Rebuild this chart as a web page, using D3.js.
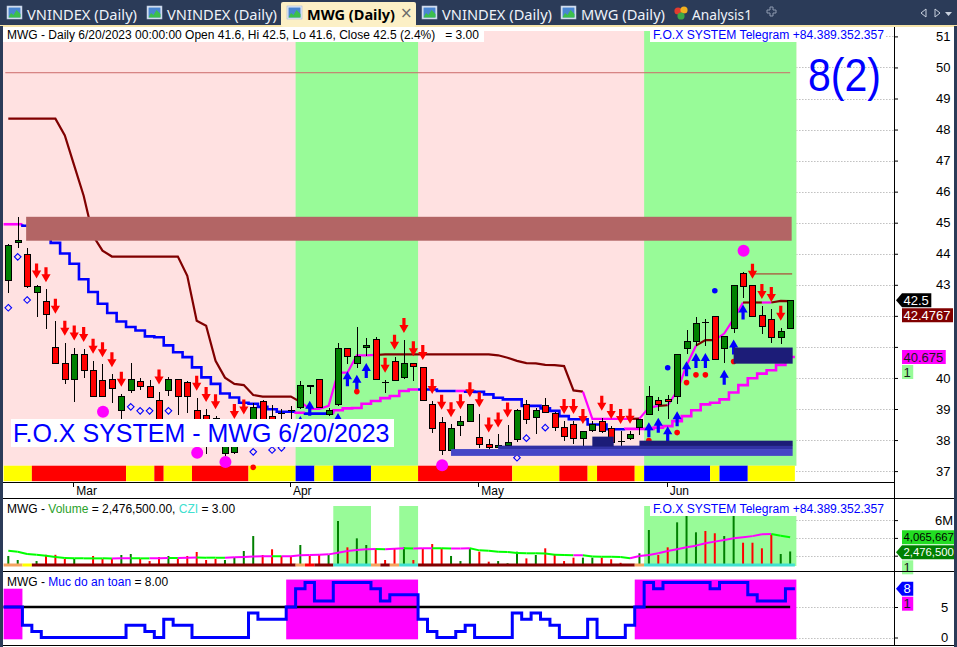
<!DOCTYPE html>
<html>
<head>
<meta charset="utf-8">
<script src="https://cdn.jsdelivr.net/npm/d3@7"></script>
<style>
body{margin:0;background:#fff;overflow:hidden}
svg{display:block;font-family:"Liberation Sans",Arial,sans-serif}
</style>
</head>
<body>
<div id="chart"></div>
<script>
// MWG daily bars, 20 Feb 2023 .. 20 Jun 2023
var tabNames = ['VNINDEX (Daily)','VNINDEX (Daily)','MWG (Daily)','VNINDEX (Daily)','MWG (Daily)','Analysis1']
var months = [[7,'Mar'],[30,'Apr'],[50,'May'],[70,'Jun']]
var priceTicks = [37,38,39,40,41,42,43,44,45,46,47,48,49,50,51]
var volTicks = [2,4,6]
var safeTicks = [0,5]

var open = [43.15,44.35,43.97,42.76,42.45,40.97,40.47,39.95,40.76,40.25,
	39.93,39.96,38.96,39.58,39.87,39.71,39.26,39.58,39.96,39.86,
	38.96,38.8,38.7,37.58,37.6,38.0,38.67,39.23,38.77,38.85,
	38.96,39.06,39.76,39.96,38.83,39.15,40.96,40.47,40.98,41.23,
	39.85,40.52,40.01,40.47,40.35,39.15,38.58,37.67,38.48,38.61,
	38.07,37.86,37.75,37.83,38.02,39.13,38.72,39.1,38.86,38.39,
	38.5,38.05,38.31,38.61,38.38,37.95,38.05,38.4,38.83,39.26,
	39.31,39.4,40.96,41.16,41.8,41.97,40.96,41.6,43.35,42.97,
	42.0,41.89,41.3,41.6]
var high = [44.3,45.17,44.2,42.98,42.86,41.84,41.13,40.98,40.93,40.55,
	40.44,40.12,39.49,40.47,40.01,39.93,39.56,40.04,39.96,39.9,
	39.36,39.0,38.77,38.4,38.45,38.6,39.2,39.3,39.12,39.0,
	39.1,39.9,39.76,39.96,39.04,41.11,40.96,41.65,41.3,41.32,
	39.94,40.68,41.22,40.47,40.35,39.26,38.75,38.51,38.77,39.15,
	38.83,38.02,38.18,38.5,39.0,39.28,39.04,39.37,38.9,38.61,
	38.61,38.29,38.61,38.72,38.45,38.29,38.3,38.67,39.74,39.39,
	39.44,40.76,41.55,41.97,41.9,41.97,41.33,42.97,43.4,42.97,
	42.32,42.22,41.62,42.5]
var low = [42.72,44.2,42.9,41.97,41.59,40.47,39.82,39.24,40.01,39.39,
	39.39,39.2,38.64,39.53,39.6,39.36,38.5,39.42,38.81,38.86,
	37.55,37.55,37.9,37.5,37.55,37.9,38.5,38.5,38.5,38.6,
	38.65,39.0,39.49,39.04,38.77,39.1,40.44,40.33,40.71,39.96,
	39.53,39.9,39.98,39.9,39.26,38.24,37.52,37.67,38.13,38.61,
	37.75,37.62,37.75,37.83,37.95,38.53,38.18,38.88,38.3,37.97,
	37.86,37.75,38.25,38.24,37.91,37.75,38.0,38.16,38.8,38.94,
	38.67,39.15,40.76,41.03,41.03,40.6,40.49,41.46,42.59,41.98,
	41.41,41.14,41.09,41.6]
var close = [44.26,44.44,42.95,42.96,42.04,40.47,39.96,40.76,40.25,39.39,
	39.39,39.67,39.39,39.96,39.71,39.36,38.61,39.96,39.39,39.39,
	38.4,38.2,38.1,38.25,38.3,38.35,39.06,38.67,38.64,38.85,
	38.96,39.76,39.71,39.04,38.96,40.96,40.68,40.69,41.05,39.96,
	39.85,39.93,40.47,40.36,39.26,38.38,37.67,38.38,38.6,39.15,
	37.86,37.75,37.83,37.91,38.96,38.67,38.96,38.88,38.42,38.1,
	38.05,38.29,38.5,38.29,37.91,37.95,38.18,38.67,39.39,39.15,
	39.23,40.76,41.16,41.76,41.8,40.6,41.33,42.97,42.95,41.98,
	41.65,41.3,41.5,42.5]
// volume in millions of shares
var volumeM = [1.97,1.52,0.9,1.4,2.1,2.1,1.63,1.63,0.9,1.97,
	1.63,1.63,2.08,2.19,1.63,1.4,1.85,1.97,1.63,1.97,
	2.42,1.52,1.63,1.52,1.82,2.53,4.21,2.08,2.72,1.97,
	1.97,3.2,1.97,2.08,2.08,5.9,2.94,3.95,3.2,2.83,
	1.52,2.83,2.94,1.52,2.83,3.31,2.83,1.97,1.4,2.83,
	2.45,1.33,1.4,1.15,2.45,1.7,2.08,2.83,2.19,1.4,
	1.78,1.78,1.78,1.78,1.6,1.2,1.0,2.27,4.89,2.08,
	2.94,5.75,6.46,4.63,4.78,4.52,4.21,6.46,3.46,3.46,
	2.83,4.4,2.19,2.4765]
var volAvgM = [2.56,2.45,2.2,2.1,2.0,1.85,1.75,1.72,1.7,1.7,
	1.7,1.69,1.7,1.72,1.7,1.7,1.72,1.74,1.73,1.78,
	1.8,1.78,1.78,1.77,1.82,1.85,1.92,1.93,1.95,1.93,
	1.95,2.05,2.08,2.1,2.15,2.34,2.53,2.65,2.72,2.75,
	2.72,2.78,2.83,2.8,2.83,2.85,2.83,2.8,2.82,2.83,
	2.6,2.56,2.45,2.42,2.3,2.27,2.27,2.25,2.1,2.08,
	2.05,2.06,1.9,1.89,1.88,1.85,1.71,1.97,2.08,2.27,
	2.53,2.72,2.94,3.13,3.4,3.58,3.77,3.96,4.07,4.2,
	4.4,4.44,4.25,4.065667]
// upper trailing stop (dark red / magenta) and lower stop (blue / magenta)
var stopUp = [48.35,48.35,48.35,48.35,48.35,48.35,47.81,46.84,45.87,44.58,
	44.1,43.91,43.91,43.91,43.91,43.91,43.91,43.91,43.91,43.29,
	41.84,41.68,40.55,40.01,39.81,39.77,39.45,39.4,39.4,39.4,
	39.4,39.23,39.0,39.0,39.1,40.17,40.17,40.73,40.73,40.74,
	40.76,40.76,40.76,40.76,40.76,40.76,40.76,40.76,40.76,40.76,
	40.76,40.76,40.73,40.65,40.55,40.48,40.47,40.42,40.41,40.38,
	39.6,39.56,38.68,38.68,38.68,38.68,38.68,38.69,39.04,39.1,
	39.12,39.58,40.4,41.04,41.22,41.22,41.43,41.9,42.43,42.43,
	42.43,42.43,42.48,42.4767]
var upRuns = [[0,31,'d'],[32,39,'m'],[40,61,'d'],[62,66,'m'],[67,67,'d'],[68,69,'m'],[70,70,'d'],
	[71,73,'m'],[74,75,'d'],[76,78,'m'],[79,80,'d'],[81,81,'m'],[82,83,'d']]
var stopDn = [44.95,44.95,44.9,44.9,44.9,44.35,44.01,43.68,43.18,42.77,
	42.39,42.09,41.82,41.64,41.53,41.34,41.31,41.05,40.83,40.67,
	40.34,40.02,39.81,39.5,39.37,39.2,39.17,39.07,38.99,38.91,
	38.91,38.88,38.85,38.85,38.85,38.96,39.02,39.03,39.17,39.26,
	39.35,39.42,39.58,39.63,39.63,39.63,39.58,39.58,39.58,39.56,
	39.55,39.47,39.36,39.31,39.31,39.1,39.1,39.02,38.94,38.77,
	38.67,38.67,38.5,38.5,38.35,38.35,38.36,38.36,38.36,38.4,
	38.45,38.61,38.77,38.96,39.15,39.2,39.31,39.53,39.77,39.99,
	40.14,40.25,40.42,40.675]
var dnRuns = [[0,1,'m'],[2,30,'b'],[31,31,'m'],[32,34,'b'],[35,43,'m'],[44,47,'b'],[48,48,'m'],[49,65,'b'],[66,83,'m']]
// "Muc do an toan" (safety level)
var safety = [5,5,2,1,0,0,0,0,0,0,
	0,0,0,2,2,1,0,3,2,2,
	0,0,0,0,0,0,4,3,3,3,
	5,8,9,6,6,9,9,9,9,8,
	6,7,7,7,3,1,0,0,1,2,
	0,0,0,0,4,3,4,3,2,0,
	0,0,3,0,0,0,2,5,9,8,
	9,9,9,9,9,8,9,9,9,7,
	6,6,6,8]
var safeLevel = 5
var safeZones = [[0,1,8],[30,43,9.5],[67,83,9.5]]
var greenRuns = [[31,43],[68,83]]
var trendRuns = [[0,2,'y'],[3,12,'r'],[13,15,'y'],[16,16,'r'],[17,19,'y'],[20,25,'r'],[26,30,'y'],[31,32,'b'],
	[33,34,'y'],[35,38,'b'],[39,43,'y'],[44,53,'r'],[54,58,'y'],[59,61,'r'],[62,62,'y'],[63,66,'r'],
	[67,67,'y'],[68,74,'b'],[75,75,'y'],[76,78,'b'],[79,83,'y']]
var volRuns = [[0,1,'o'],[2,2,'y'],[3,30,'d'],[31,31,'o'],[32,32,'r'],[33,34,'d'],[35,38,'t'],[39,39,'o'],
	[40,40,'d'],[41,41,'o'],[42,43,'t'],[44,66,'d'],[67,67,'o'],[68,83,'t']]
var sellBars = [3,4,5,6,7,8,9,10,11,12,16,20,21,22,24,25,40,41,42,43,44,45,46,47,48,49,50,51,52,53,
	59,60,61,63,64,65,66,79,80,81,82]
var buyBars = [31,32,35,36,37,38,68,69,70,71,72,73,74,76,77,78]
var hollowMarks = [[0,42.26],[1,43.9],[2,42.51],[13,39.07],[14,38.94],[15,38.94],[17,38.94],[26,37.62],
	[28,37.68],[29,37.75],[54,37.43],[55,38.06],[57,38.4]]
var redDots = [[26,37.12],[37,39.56],[68,37.98],[71,38.24],[72,39.85],[73,40.1],[74,40.1],[77,40.53]]
var blueDots = [[70,40.33],[75,42.81]]
var bigDots = [[10,38.91],[20,37.59],[23,37.29],[46,37.19],[78,44.1]]
var zones = [
	{from:2,  to:83, lo:44.42, hi:45.19, kind:'res'},
	{from:47, to:83, lo:37.49, hi:37.71, kind:'s3'},
	{from:52, to:83, lo:37.71, hi:37.82, kind:'s2'},
	{from:62, to:64, lo:37.79, hi:38.11, kind:'s1'},
	{from:67, to:83, lo:37.81, hi:37.98, kind:'s1'},
	{from:77, to:83, lo:40.46, hi:40.98, kind:'s1'}]
var levelLine = 49.83
var highLine = [79,83,43.35]
var flagValue = 1
var czi = 3.00
var signalText = '8(2)'
var brand = 'F.O.X SYSTEM Telegram +84.389.352.357'
var stamp = 'F.O.X SYSTEM - MWG 6/20/2023'

var n = close.length
var step = 9.42, half = step/2
var x = d3.scaleLinear().domain([0,n-1]).range([8.3, 8.3+step*(n-1)])
var y = d3.scaleLinear().domain([37,51]).range([471.1,36.4])
var vy = d3.scaleLinear().domain([0,6]).range([573.5,520.1])
var sy = d3.scaleLinear().domain([0,5]).range([637.5,607])
var axisX = 894
var dataRight = x(n-1)+half+1.5
var f1 = d3.format('.1f')

var trendColor = {y:'#ffff00', r:'#ff0000', b:'#0000ff'}
var volColor = {o:'#f4a460', y:'#ffff00', d:'#800000', r:'#ff0000', t:'#40e0d0'}
var lineColor = {d:'#800000', m:'#ff00ff', b:'#0000ff'}
var zoneColor = {res:'#b36565', s3:'#4646c6', s2:'#3131a4', s1:'#1c1c78'}

var svg = d3.select('#chart').append('svg').attr('width',957).attr('height',647)
svg.append('rect').attr('width',957).attr('height',647).attr('fill','#fff')

function stepLine(vals,a,b,sc){
	var pts = []
	if(a>0) pts.push([x(a)-half, sc(vals[a-1])])
	for(var i=a;i<=b;i++){
		pts.push([x(i)-half, sc(vals[i])])
		pts.push([x(i)+half, sc(vals[i])])
	}
	return d3.line()(pts)
}

function tabIcon(g,x0){
	var ic = g.append('g').attr('transform','translate('+x0+',6)')
	ic.append('rect').attr('width',15).attr('height',13).attr('fill','#e4ecf7').attr('stroke','#a8bad4').attr('stroke-width',0.6)
	ic.append('rect').attr('x',1.5).attr('y',1.5).attr('width',12).attr('height',10).attr('fill','#4a86d2')
	ic.append('path').attr('d','M1.5,11.5 L4,7 L6.5,9 L9.5,4 L13.5,8 L13.5,11.5 Z').attr('fill','#3cbf4c')
}

function drawTabs(){
	var g = svg.append('g')
	g.append('rect').attr('width',957).attr('height',26).attr('fill','#2b3b58')
	g.append('rect').attr('y',25).attr('width',957).attr('height',2).attr('fill','#f6e4aa')
	var tx = [7,147,287,422,561,673]
	var tw = [110,110,88,110,84,60]
	tabNames.forEach((t,i)=>{
		var active = i===2
		if(active){
			g.append('rect').attr('x',281).attr('y',2).attr('width',135).attr('height',25)
			 .attr('rx',2).attr('fill','#fcf0c6')
			g.append('text').attr('x',400).attr('y',18).attr('font-size',15).attr('fill','#6a6a6a')
			 .attr('font-family','"DejaVu Sans",sans-serif').text('\u00d7')
		}
		if(i===5){
			g.append('circle').attr('cx',tx[i]+5).attr('cy',11).attr('r',3.6).attr('fill','#e23b2e')
			g.append('circle').attr('cx',tx[i]+11).attr('cy',10).attr('r',3.6).attr('fill','#f2b01e')
			g.append('circle').attr('cx',tx[i]+8).attr('cy',16).attr('r',3.6).attr('fill','#3aa845')
		}
		else tabIcon(g,tx[i])
		g.append('text').attr('x',tx[i]+(i===5?19:20)).attr('y',19.5)
		 .attr('font-family','"Noto Sans","Open Sans",sans-serif').attr('font-size',15)
		 .attr('font-weight',active?'bold':'normal').attr('fill',active?'#000':'#eef2f8')
		 .attr('textLength',tw[i]).attr('lengthAdjust','spacingAndGlyphs').text(t)
	})
	g.append('path').attr('d','M767,10h3v-3h3v3h3v3h-3v3h-3v-3h-3z').attr('fill','none').attr('stroke','#8f9bb0').attr('stroke-width',1)
	g.append('path').attr('d','M926,9 L921,13 L926,17 Z').attr('fill','none').attr('stroke','#c9d1de')
	g.append('path').attr('d','M935,9 L940,13 L935,17 Z').attr('fill','none').attr('stroke','#c9d1de')
	g.append('path').attr('d','M945,12 L952,12 L948.5,16 Z').attr('fill','#c9d1de')
}

// value tags at the right edge; items: [y, text, fill, text colour, arrow, font size]
function valueLabels(items){
	var g = svg.append('g')
	var last = -1e9, boxes = []
	items.forEach(it=>{
		var yc = Math.max(it[0], last+15)
		last = yc
		var fs = it[5]||13
		var t = g.append('text').attr('x',903.5).attr('y',yc+fs*0.36).attr('font-size',fs).attr('fill',it[3]).text(it[1])
		var w = t.node().getComputedTextLength()
		var r = Math.min(906+w,954)
		var pts = it[4]
			? [[896,yc],[902,yc-7],[r,yc-7],[r,yc+7],[902,yc+7]]
			: [[902,yc-7],[r,yc-7],[r,yc+7],[902,yc+7]]
		g.insert('polygon','text').attr('points',pts.map(p=>p.join(',')).join(' ')).attr('fill',it[2])
		boxes.push([it[4]?896:902, yc-7, r, yc+7])
	})
	return boxes
}

function rightAxis(sc,ticks,pad,fmt){
	var g = svg.append('g').attr('transform','translate('+axisX+',0)')
	g.call(d3.axisRight(sc).tickValues(ticks).tickSize(4).tickPadding(pad).tickFormat(fmt))
	g.select('.domain').remove()
	g.selectAll('text').attr('font-size',13).attr('font-family','"Liberation Sans",Arial,sans-serif').attr('fill','#000')
	g.selectAll('line').attr('stroke','#000')
	svg.insert('g',':first-child + *').selectAll('line').data(ticks).join('line')
	   .attr('x1',dataRight).attr('x2',axisX).attr('y1',d=>Math.round(sc(d))+0.5).attr('y2',d=>Math.round(sc(d))+0.5)
	   .attr('stroke','#a0a0a0').attr('stroke-dasharray','1,2')
	return g
}

// tick labels that sit under a value tag are hidden, as in the original
function hideCovered(axisG,boxes){
	axisG.selectAll('text').each(function(){
		var b = this.getBoundingClientRect()
		var hit = boxes.some(q=>b.right>q[0] && b.left<q[2] && b.bottom>q[1]+1 && b.top<q[3]-1)
		if(hit) d3.select(this).remove()
	})
}

function drawPrice(){
	var g = svg.append('g')
	var top = 31, bottom = 465.7
	var ax = rightAxis(y,priceTicks,38,d=>d)
	g.append('rect').attr('x',3).attr('y',top).attr('width',dataRight-3).attr('height',bottom-top).attr('fill','#ffe1e1')
	greenRuns.forEach(r=>{
		g.append('rect').attr('x',x(r[0])-half).attr('y',top)
		 .attr('width',x(r[1])-x(r[0])+step+(r[1]===n-1?1.5:0)).attr('height',bottom-top).attr('fill','#98fb98')
	})
	trendRuns.forEach(r=>{
		g.append('rect').attr('x',x(r[0])-half).attr('y',bottom).attr('width',x(r[1])-x(r[0])+step)
		 .attr('height',15.5).attr('fill',trendColor[r[2]])
	})
	g.append('line').attr('x1',x(0)-3).attr('x2',x(n-1)).attr('y1',y(levelLine)).attr('y2',y(levelLine))
	 .attr('stroke','#cc6b6b').attr('stroke-width',1)
	// lower stop, stepped
	dnRuns.forEach(r=>{
		g.append('path').attr('d',stepLine(stopDn,r[0],r[1],y)).attr('fill','none')
		 .attr('stroke',lineColor[r[2]]).attr('stroke-width',2.6)
	})
	// upper stop
	upRuns.forEach(r=>{
		var idx = d3.range(Math.max(r[0]-1,0),r[1]+1)
		g.append('path').attr('d',d3.line().x(i=>x(i)).y(i=>y(stopUp[i]))(idx)).attr('fill','none')
		 .attr('stroke',lineColor[r[2]]).attr('stroke-width',2.2)
	})
	g.append('line').attr('x1',x(highLine[0])).attr('x2',x(highLine[1])+2).attr('y1',y(highLine[2])).attr('y2',y(highLine[2]))
	 .attr('stroke','#b22222').attr('stroke-width',1)
	zones.filter(z=>z.kind==='res').forEach(z=>{
		g.append('rect').attr('x',x(z.from)-1).attr('y',y(z.hi)).attr('width',x(z.to)-x(z.from)+2.5)
		 .attr('height',y(z.lo)-y(z.hi)).attr('fill',zoneColor[z.kind])
	})
	// candles
	var cg = g.append('g').attr('shape-rendering','crispEdges')
	close.forEach((c,i)=>{
		var o = open[i], cx = Math.round(x(i))+0.5
		cg.append('line').attr('x1',cx).attr('x2',cx).attr('y1',y(high[i])).attr('y2',y(low[i])).attr('stroke','#000')
		if(o===c){
			cg.append('line').attr('x1',cx-3.5).attr('x2',cx+3.5).attr('y1',y(c)).attr('y2',y(c)).attr('stroke','#000')
		}
		else {
			var t = y(Math.max(o,c)), b = y(Math.min(o,c))
			cg.append('rect').attr('x',cx-3).attr('y',t).attr('width',6).attr('height',Math.max(b-t,1.5))
			  .attr('fill',c>o?'#008000':'#ff0000').attr('stroke','#000')
		}
	})
	// signals
	var down = [[0,0],[-4.6,-8],[-1.6,-8],[-1.6,-15],[1.6,-15],[1.6,-8],[4.6,-8]]
	sellBars.forEach(i=>{
		var tx = x(i), ty = y(high[i])-7
		g.append('polygon').attr('points',down.map(p=>(tx+p[0])+','+(ty+p[1])).join(' ')).attr('fill','#ff0000')
	})
	buyBars.forEach(i=>{
		var tx = x(i), ty = y(low[i])+7
		g.append('polygon').attr('points',down.map(p=>(tx+p[0])+','+(ty-p[1])).join(' ')).attr('fill','#0000ff')
	})
	hollowMarks.forEach(d=>{
		var cx = x(d[0]), cy = y(d[1])
		g.append('path').attr('d','M'+cx+','+(cy-3.3)+'L'+(cx+3.3)+','+cy+'L'+cx+','+(cy+3.3)+'L'+(cx-3.3)+','+cy+'Z')
		 .attr('fill','none').attr('stroke','#0000ff').attr('stroke-width',1.1)
	})
	redDots.forEach(d=>g.append('circle').attr('cx',x(d[0])).attr('cy',y(d[1])).attr('r',2.8).attr('fill','#ff0000'))
	blueDots.forEach(d=>g.append('circle').attr('cx',x(d[0])).attr('cy',y(d[1])).attr('r',2.8).attr('fill','#0000ff'))
	bigDots.forEach(d=>g.append('circle').attr('cx',x(d[0])+0.5).attr('cy',y(d[1])).attr('r',6).attr('fill','#ff00ff'))
	zones.filter(z=>z.kind!=='res').forEach(z=>{
		g.append('rect').attr('x',x(z.from)).attr('y',y(z.hi)).attr('width',x(z.to)-x(z.from)+2.5)
		 .attr('height',y(z.lo)-y(z.hi)).attr('fill',zoneColor[z.kind])
	})
	// texts
	g.append('rect').attr('x',11).attr('y',419).attr('width',383).attr('height',28).attr('fill','#fff')
	g.append('text').attr('x',13).attr('y',442).attr('font-size',25).attr('fill','#0000ff').text(stamp)
	var title = 'MWG - Daily 6/20/2023 00:00:00 Open '+f1(open[n-1])+', Hi '+f1(high[n-1])+', Lo '+f1(low[n-1])
		+', Close '+f1(close[n-1])+' ('+f1((close[n-1]/close[n-2]-1)*100)+'%)   = '+d3.format('.2f')(czi)
	g.append('rect').attr('x',3).attr('y',27).attr('width',481).attr('height',15).attr('fill','#fff')
	g.append('text').attr('x',7).attr('y',38.5).attr('font-size',12).style('white-space','pre').attr('fill','#000').text(title)
	g.append('rect').attr('x',650).attr('y',27).attr('width',236).attr('height',15).attr('fill','#fff')
	g.append('text').attr('x',653).attr('y',38.5).attr('font-size',12).attr('fill','#0000ff')
	 .attr('textLength',231).attr('lengthAdjust','spacingAndGlyphs').text(brand)
	g.append('text').attr('x',808).attr('y',91).attr('font-size',46).attr('fill','#0000ff')
	 .attr('textLength',73).attr('lengthAdjust','spacingAndGlyphs').text(signalText)
	// month axis
	months.forEach(m=>{
		g.append('line').attr('x1',Math.round(x(m[0]))-0.5).attr('x2',Math.round(x(m[0]))-0.5).attr('y1',482).attr('y2',487).attr('stroke','#000')
		g.append('text').attr('x',x(m[0])+2).attr('y',494.5).attr('font-size',12).text(m[1])
	})
	var boxes = valueLabels([
		[y(close[n-1]),f1(close[n-1]),'#000000','#fff',true],
		[y(stopUp[n-1]),d3.format('.4f')(stopUp[n-1]),'#800000','#fff',false],
		[y(stopDn[n-1]),d3.format('.3f')(stopDn[n-1]),'#ff00ff','#1a1a1a',false],
		[y(stopDn[n-1]),String(flagValue),'#98fb98','#1a1a1a',false]])
	hideCovered(ax,boxes)
}

function drawVolume(){
	var g = svg.append('g')
	var base = 566
	var ax = rightAxis(vy,volTicks,37,d=>d+'M')
	volRuns.filter(r=>r[2]==='t').forEach(r=>{
		g.append('rect').attr('x',x(r[0])-half).attr('y',506).attr('width',x(r[1])-x(r[0])+step+(r[1]===n-1?1.5:0))
		 .attr('height',base-506).attr('fill','#98fb98')
	})
	volumeM.forEach((v,i)=>{
		g.append('line').attr('x1',x(i)).attr('x2',x(i)).attr('y1',vy(v)).attr('y2',base)
		 .attr('stroke',close[i]>open[i]?'#008000':'#ff0000').attr('stroke-width',2)
	})
	volRuns.forEach(r=>{
		g.append('rect').attr('x',x(r[0])-half).attr('y',563.5).attr('width',x(r[1])-x(r[0])+step)
		 .attr('height',3).attr('fill',volColor[r[2]])
	})
	volAvgM.forEach((v,i)=>{
		if(i===0) return
		g.append('line').attr('x1',x(i-1)).attr('x2',x(i)).attr('y1',vy(volAvgM[i-1])).attr('y2',vy(v))
		 .attr('stroke',v>volAvgM[i-1]?'#ff00ff':'#00ff00').attr('stroke-width',2)
	})
	var t = g.append('text').attr('x',7).attr('y',512.5).attr('font-size',12)
	t.append('tspan').attr('fill','#000').text('MWG - ')
	t.append('tspan').attr('fill','#2aa12a').text('Volume')
	t.append('tspan').attr('fill','#000').text(' = '+d3.format(',.2f')(volumeM[n-1]*1e6)+', ')
	t.append('tspan').attr('fill','#40e0d0').text('CZI')
	t.append('tspan').attr('fill','#000').text(' = '+d3.format('.2f')(czi))
	g.append('rect').attr('x',650).attr('y',502).attr('width',236).attr('height',14).attr('fill','#fff')
	g.append('text').attr('x',653).attr('y',512.5).attr('font-size',12).attr('fill','#0000ff')
	 .attr('textLength',231).attr('lengthAdjust','spacingAndGlyphs').text(brand)
	var boxes = valueLabels([
		[vy(volAvgM[n-1]),d3.format(',.0f')(volAvgM[n-1]*1e6),'#22dd22','#000',false,11.3],
		[vy(volumeM[n-1]),d3.format(',.0f')(volumeM[n-1]*1e6),'#008000','#fff',true,11.3],
		[vy(volumeM[n-1]),String(flagValue),'#98fb98','#1a1a1a',false]])
	hideCovered(ax,boxes)
}

function drawSafety(){
	var g = svg.append('g')
	var ax = rightAxis(sy,safeTicks,43,d=>d)
	safeZones.forEach(z=>{
		g.append('rect').attr('x',x(z[0])-half).attr('y',sy(z[2])).attr('width',x(z[1])-x(z[0])+step+(z[1]===n-1?1.5:0))
		 .attr('height',sy(-0.3)-sy(z[2])).attr('fill','#ff00ff')
	})
	g.append('line').attr('x1',x(0)-half).attr('x2',x(n-1)).attr('y1',sy(safeLevel)).attr('y2',sy(safeLevel))
	 .attr('stroke','#000').attr('stroke-width',2.5)
	g.append('path').attr('d',stepLine(safety,0,n-1,sy)).attr('fill','none').attr('stroke','#0000ff').attr('stroke-width',3)
	var t = g.append('text').attr('x',7).attr('y',585.5).attr('font-size',12)
	t.append('tspan').attr('fill','#000').text('MWG - ')
	t.append('tspan').attr('fill','#0000ff').text('Muc do an toan')
	t.append('tspan').attr('fill','#000').text(' = '+d3.format('.2f')(safety[n-1]))
	var boxes = valueLabels([
		[sy(safety[n-1]),String(safety[n-1]),'#0000ff','#fff',true],
		[sy(safety[n-1]),String(flagValue),'#ff00ff','#1a1a1a',false]])
	hideCovered(ax,boxes)
}

function drawFrame(){
	var g = svg.append('g').attr('shape-rendering','crispEdges')
	g.append('line').attr('x1',3).attr('x2',axisX).attr('y1',482.5).attr('y2',482.5).attr('stroke','#000')
	;[498.5,571.5,645.5].forEach(v=>{
		g.append('line').attr('x1',3).attr('x2',955).attr('y1',v).attr('y2',v).attr('stroke','#000').attr('stroke-width',1.5)
	})
	g.append('line').attr('x1',axisX+0.5).attr('x2',axisX+0.5).attr('y1',27).attr('y2',645).attr('stroke','#000')
	g.append('rect').attr('x',0).attr('y',26).attr('width',3).attr('height',621).attr('fill','#2b3b58')
	g.append('rect').attr('x',954).attr('y',26).attr('width',3).attr('height',621).attr('fill','#2b3b58')
}

drawTabs()
drawPrice()
drawVolume()
drawSafety()
drawFrame()
</script>
</body>
</html>
